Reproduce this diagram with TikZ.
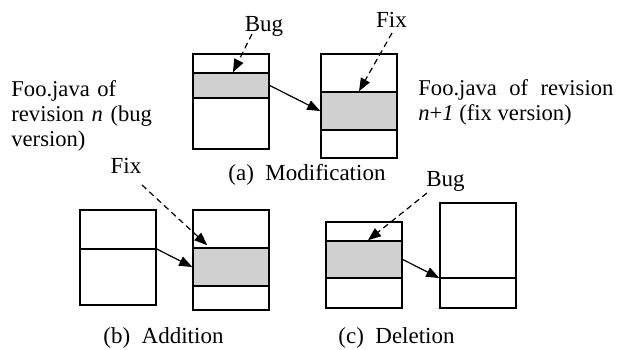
\documentclass[tikz,border=0pt]{standalone}
\usepackage{fontspec}
\setmainfont{Liberation Serif}
\usetikzlibrary{arrows.meta,calc}
\definecolor{fixgray}{RGB}{208,208,208}
\tikzset{
  filebox/.style={draw=black, line width=0.75pt, fill=white, inner sep=0pt, minimum width=38pt},
  grayband/.style={draw=black, line width=0.75pt, fill=fixgray, inner sep=0pt, minimum width=38pt},
  divider/.style={line width=0.75pt},
  change/.style={line width=0.6pt, -{Triangle[length=6.5pt,width=5pt]}},
  pointer/.style={line width=0.6pt, dash pattern=on 3pt off 2pt, -{Triangle[length=6.5pt,width=5pt]}},
  lbl/.style={inner sep=0pt, anchor=base, font=\fontsize{11.5}{12.5}\selectfont},
  para/.style={inner sep=0pt, anchor=base west, font=\fontsize{11.3}{12.5}\selectfont},
}
\begin{document}
\begin{tikzpicture}[x=0.5pt,y=-0.5pt]
\path[use as bounding box] (0,0) rectangle (622,349);

% (a) Modification
\node[filebox, minimum height=47.5pt] (a1) at (231,101.5) {};
\node[grayband, minimum height=12.5pt] (a1g) at (231,85.5) {};
\node[filebox, minimum height=52pt] (a2) at (359,106) {};
\node[grayband, minimum height=19pt] (a2g) at (359,111) {};
\draw[change] (a1g.east) -- (a2g.west);

\node[lbl] (bugA) at (264,31) {Bug};
\coordinate (bugAs) at (252,34);
\draw[pointer] (bugAs) -- ($(a1g.north)+(2,0)$);
\node[lbl] (fixA) at (391.5,27) {Fix};
\coordinate (fixAs) at (392,33);
\draw[pointer] (fixAs) -- (a2g.north);

\node[para, text width=85pt, align=left] (txtL) at (11,96.5)
  {Foo.java of\\ revision \textit{n} (bug\\ version)};
\node[para, text width=97.5pt, align=justify] (txtR) at (418,95)
  {Foo.java of revision \textit{n}+\textit{1} (fix version)};

\node[lbl, anchor=base west] (capA) at (228,180) {(a)\ \ Modification};

% (b) Addition
\node[filebox, minimum height=47.5pt] (b1) at (118,257.5) {};
\draw[divider] (b1.west |- 0,249) -- (b1.east |- 0,249) coordinate (b1d);
\node[filebox, minimum height=50pt] (b2) at (231,260) {};
\node[grayband, minimum height=19pt] (b2g) at (231,267) {};
\draw[change] (b1d) -- (b2g.west);
\node[lbl] (fixB) at (126,173) {Fix};
\coordinate (fixBs) at (142,185);
\draw[pointer] (fixBs) -- ($(b2g.north west)+(15,-2)$);
\node[lbl, anchor=base west] (capB) at (103,343) {(b)\ \ Addition};

% (c) Deletion
\node[filebox, minimum height=43pt] (c1) at (364,265) {};
\node[grayband, minimum height=18.5pt] (c1g) at (364,259.5) {};
\node[filebox, minimum height=52.5pt] (c2) at (478,255.5) {};
\draw[divider] (c2.west |- 0,278) coordinate (c2d) -- (c2.east |- 0,278);
\draw[change] (c1g.east) -- (c2d);
\node[lbl] (bugC) at (445.5,186) {Bug};
\coordinate (bugCs) at (427,193);
\draw[pointer] (bugCs) -- ($(c1g.north)+(4,0)$);
\node[lbl, anchor=base west] (capC) at (338,343) {(c)\ \ Deletion};
\end{tikzpicture}
\end{document}
